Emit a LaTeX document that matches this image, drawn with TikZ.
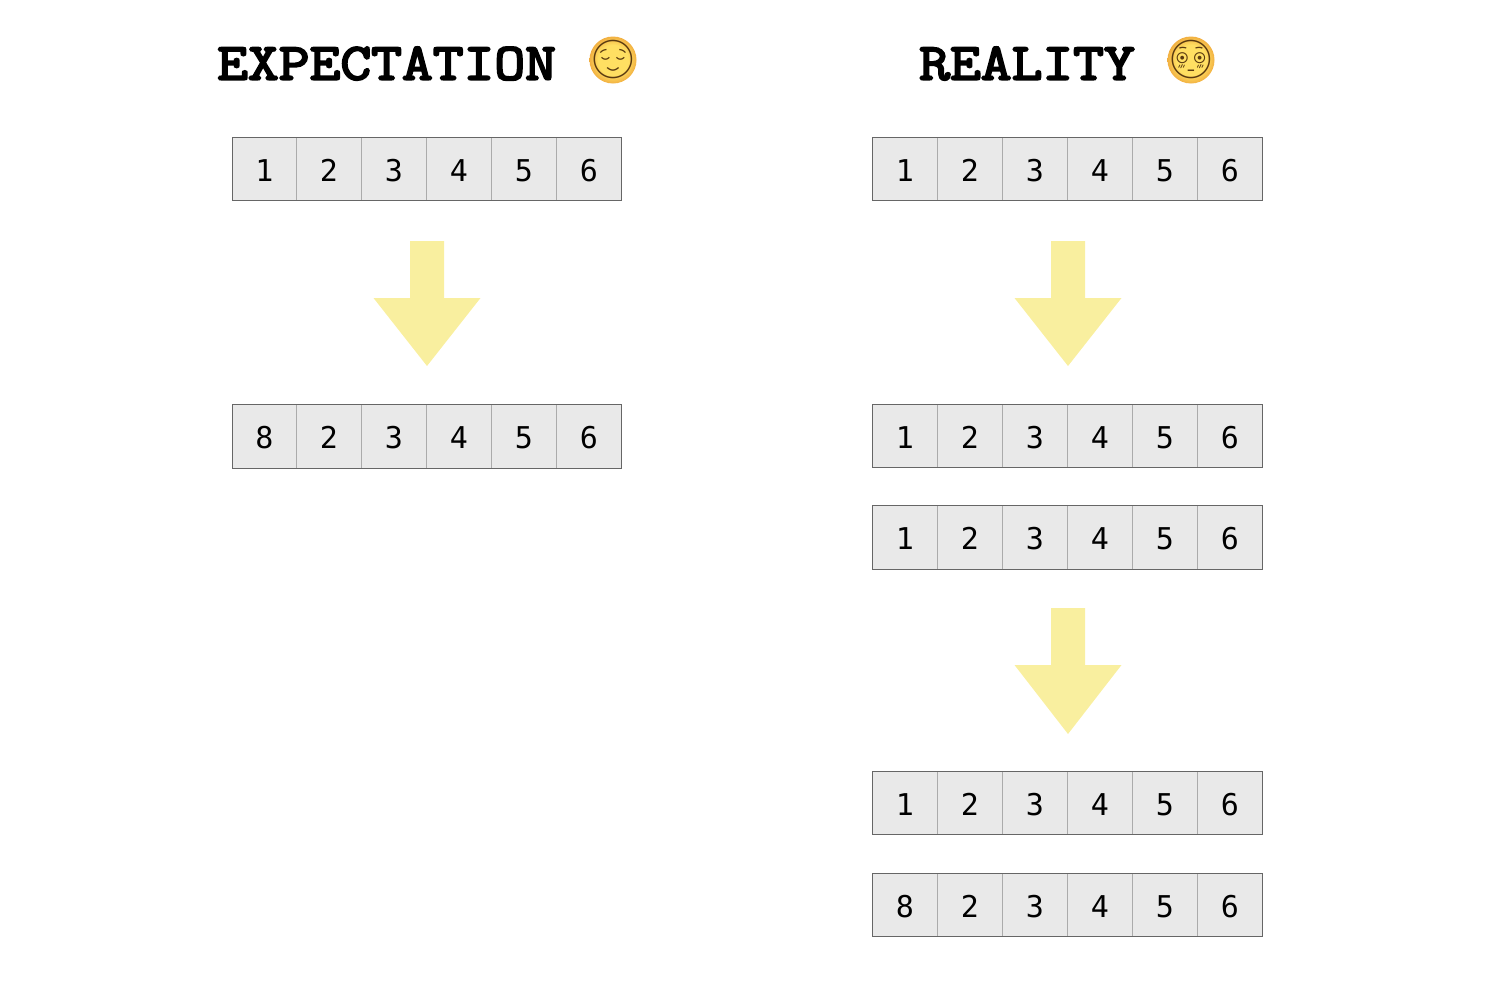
\documentclass[tikz,border=0pt]{standalone}
\usepackage{fontspec}
\usetikzlibrary{positioning}
\newfontfamily\titlefont[FakeBold=4,FakeStretch=1.15]{Latin Modern Mono}
\newfontfamily\cellfont{DejaVu Sans Mono}
\newfontfamily\emojifont{Noto Emoji}
\definecolor{cellgray}{HTML}{E9E9E9}
\definecolor{dividergray}{HTML}{ABABAB}
\definecolor{framegray}{HTML}{666666}
\definecolor{arrowyellow}{HTML}{F9EF9F}
\definecolor{emojiline}{HTML}{5A3A10}
\definecolor{facelight}{HTML}{FFDF62}
\definecolor{facedark}{HTML}{EFA63A}
\pgfdeclareradialshading{facegrad}{\pgfpoint{0bp}{0bp}}{
  color(0bp)=(facelight); color(16bp)=(facelight); color(27bp)=(facedark); color(100bp)=(facedark)}
\tikzset{
  cellbox/.style={draw=dividergray, fill=cellgray, line width=0.8pt, minimum width=65pt,
    minimum height=63.5pt, inner sep=0pt, outer sep=0pt, text height=24.8pt, text depth=0pt,
    font=\cellfont\fontsize{30}{30}\selectfont},
  rowframe/.style={draw=framegray, line width=1pt},
  heading/.style={font=\titlefont\fontsize{52}{52}\selectfont, anchor=base west, inner sep=0pt},
  facedisc/.style={circle, minimum size=47pt, inner sep=0pt, shading=facegrad},
  emoji/.style={inner sep=0pt, text=emojiline, font=\emojifont\fontsize{38}{38}\selectfont},
  pics/downarrow/.style={code={
    \fill[arrowyellow] (-17,0) -- (17,0) -- (17,-57) -- (53.5,-57) -- (0,-#1) -- (-53.5,-57) -- (-17,-57) -- cycle;
  }}
}
% one row of six cells: [first width], name, left x, centre y, first digit
\newcommand{\cellrow}[5][65pt]{
  \node[cellbox, anchor=west, minimum width=#1] (#2c1) at (#3,#4) {#5};
  \foreach \n [remember=\n as \p (initially 1)] in {2,...,6}
    \node[cellbox, right=0pt of #2c\p] (#2c\n) {\n};
  \draw[rowframe] (#2c1.north west) rectangle (#2c6.south east);
}

\begin{document}
\begin{tikzpicture}[x=1pt, y=1pt]
  \useasboundingbox (0,0) rectangle (1510,-996);

  % Headings
  \node[heading] (leftHead) at (217,-79.5) {EXPECTATION};
  \node[facedisc] (leftDisc) at (613,-60) {};
  \node[emoji] (leftFace) at (leftDisc) {\char"1F60C};
  \node[heading] (rightHead) at (919,-79.5) {REALITY};
  \node[facedisc] (rightDisc) at (1191,-60) {};
  \node[emoji] (rightFace) at (rightDisc) {\char"1F633};

  % Expectation column
  \cellrow[64pt]{a}{232.5}{-169}{1}
  \pic at (427,-241) {downarrow=125};
  \cellrow[64pt]{b}{232.5}{-436.5}{8}

  % Reality column
  \cellrow{c}{872.5}{-169}{1}
  \pic at (1068,-241) {downarrow=125};
  \cellrow{d}{872.5}{-436}{1}
  \cellrow{e}{872.5}{-537.5}{1}
  \pic at (1068,-608) {downarrow=126};
  \cellrow{f}{872.5}{-803}{1}
  \cellrow{g}{872.5}{-905}{8}
\end{tikzpicture}
\end{document}
